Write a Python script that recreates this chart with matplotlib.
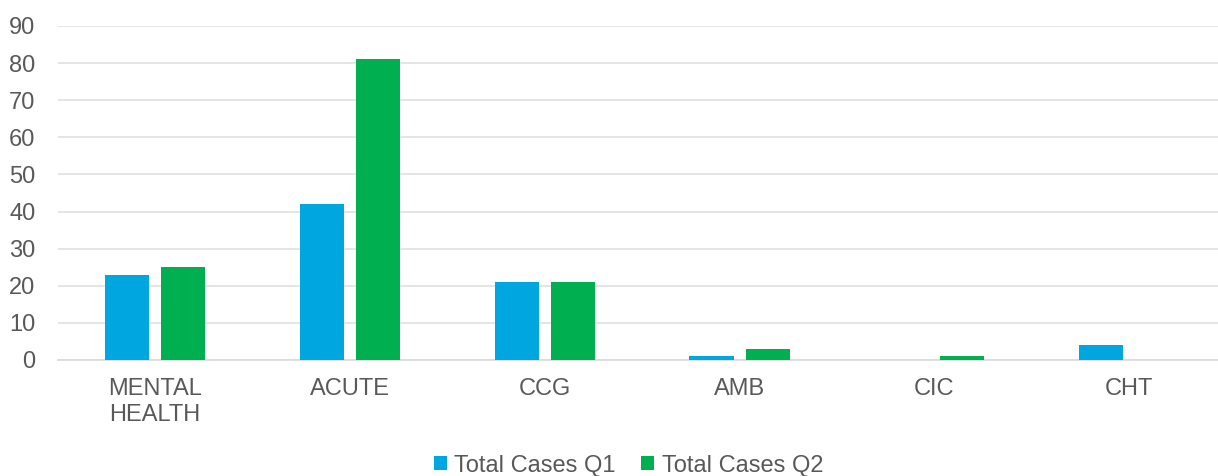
import matplotlib.pyplot as plt
import numpy as np

categories = ['MENTAL\nHEALTH', 'ACUTE', 'CCG', 'AMB', 'CIC', 'CHT']
q1_cases = [23, 42, 21, 1, 0, 4]
q2_cases = [25, 81, 21, 3, 1, 0]

plt.rcParams['font.family'] = ['Liberation Sans', 'DejaVu Sans']

fig = plt.figure(figsize=(12.18, 4.76), dpi=100)
ax = fig.add_axes([0.0473, 0.2437, 0.9598, 0.7017])

x = np.arange(len(categories))
w = 0.226
ax.bar(x - 0.144, q1_cases, w, color='#00A6E0', label='Total Cases Q1', zorder=3)
ax.bar(x + 0.144, q2_cases, w, color='#00B050', label='Total Cases Q2', zorder=3)

ax.set_xlim(-0.5, len(categories) - 0.5)
ax.set_ylim(0, 90)
ax.set_yticks(range(0, 91, 10))
ax.set_xticks(x)
ax.set_xticklabels(categories, linespacing=1.25)
ax.grid(axis='y', color='#e0e0e0', linewidth=1.2, zorder=0)
for s in ['top', 'right', 'left']:
    ax.spines[s].set_visible(False)
ax.spines['bottom'].set_color('#d9d9d9')
ax.spines['bottom'].set_linewidth(1.2)
ax.tick_params(axis='both', length=0, labelsize=17, colors='#595959')
ax.tick_params(axis='x', pad=13)
ax.tick_params(axis='y', pad=16)

leg = fig.legend(loc='center', bbox_to_anchor=(0.516, 0.022), ncol=2, frameon=False,
                 fontsize=17, handlelength=0.55, handleheight=0.55, handletextpad=0.3,
                 columnspacing=1.1, borderpad=0)
for t in leg.get_texts():
    t.set_color('#595959')

fig.savefig('out.png', dpi=100)
